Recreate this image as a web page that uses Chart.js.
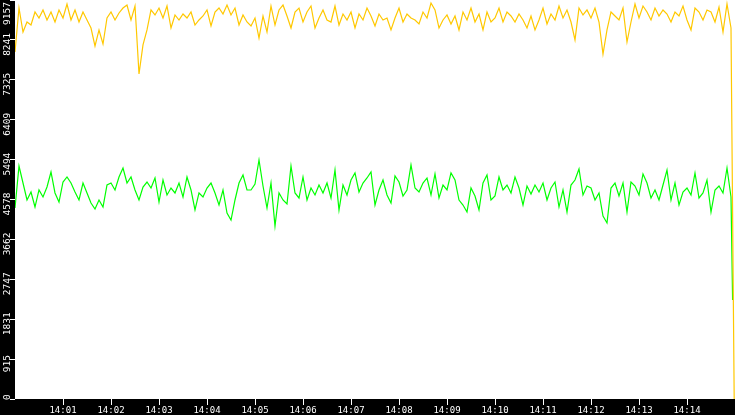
<!DOCTYPE html>
<html>
<head>
<meta charset="UTF-8">
<title>Load monitor</title>
<script src="https://cdn.jsdelivr.net/npm/chart.js@4.4.0/dist/chart.umd.min.js"></script>
<style type="text/css">
	body { margin: 0; background: #000; }
	#graphContainer { position: absolute; left: 0; top: 0; width: 735px; height: 415px; }
</style>
</head>
<body>

<div id="graphContainer">
	<canvas id="loadChart" width="735" height="415"></canvas>
</div>

<script type="text/javascript">

// one sample every 5 seconds starting 14:00:00
var sampleStep = 5;

var yellowValues = [
	7964,8973,8423,8652,8583,8882,8744,8928,8698,8882, 8652,8928,8744,9065,8698,8928,8652,8882,8698,8514,
	8101,8469,8147,8744,8882,8698,8859,8973,9042,8698, 9019,7459,8125,8469,8928,8813,8973,8744,9019,8514,
	8813,8698,8836,8744,8882,8583,8698,8790,8928,8560, 8882,8973,8836,9042,8813,8973,8583,8813,8652,
	8560,8744,8285,8790,8423,9019,8583,8928,9042,8790, 8514,8882,8973,8652,8882,9019,8514,8744,8928,8698,
	8652,9019,8583,8836,8698,8882,8514,8836,8698,8973, 8790,8560,8836,8698,8744,8469,8744,8973,8652,8836,
	8744,8698,8606,8882,8744,9088,8928,8514,8698,8813, 8606,8790,8469,8882,8698,8973,8652,8836,8469,8882,
	8652,
	8744,8973,8652,8882,8790,8652,8836,8698,8514,8790, 8469,8698,8973,8606,8836,8698,9019,8744,8928,8652,
	8239,8973,8813,8928,8744,8973,8652,7918,8469,8882, 8790,8698,8973,8193,8652,9065,8744,9019,8882,8698,
	8973,8790,8928,8836,8652,8882,8790,9019,8698,8469, 8973,8882,8698,8928,8882,8652,8996,8423,9065,8514
];
var yellowEnd = { x: 899, y: 0 };

var greenValues = [
	4383,5347,4957,4567,4751,4406,4797,4636,4865,5210, 4728,4521,4980,5095,4957,4751,4567,4957,4728,4498,
	4361,4567,4406,4911,4957,4797,5095,5301,4957,5095, 4797,4567,4865,4980,4842,5072,4521,5026,4682,4842,
	4728,4957,4636,5095,4797,4338,4728,4636,4842,4957, 4728,4452,4797,4269,4108,4567,4957,5141,4797,
	4797,4934,5485,4888,4383,4957,3970,4728,4567,4475, 5347,4728,4613,5095,4567,4842,4682,4911,4728,4957,
	4613,5256,4338,4911,4682,5026,5187,4751,4957,5072, 5210,4452,4797,5026,4682,4498,5118,4980,4659,4797,
	5370,4842,4751,4957,5072,4682,5164,4613,4911,4797, 5187,5026,4567,4452,4292,4842,4659,4338,4957,5141,
	4567,
	4659,5095,4797,4911,4728,5095,4842,4452,4888,4705, 4911,4751,4957,4567,4842,4980,4406,4797,4292,4911,
	5026,5279,4682,4888,4842,4567,4728,4200,4040,4842, 4957,4659,4957,4292,4980,4888,4682,5164,4957,4613,
	4797,4567,4911,5256,4567,4957,4452,4751,4842,4682, 5187,4613,4728,5026,4292,4797,4888,4728,5301,4636
];
var greenEnd = { x: 897, y: 2272 };

var yTickValues = [0, 915, 1831, 2747, 3662, 4578, 5494, 6409, 7325, 8241, 9157];
var yTickLabels = ['0', '915', '1831', '2747', '3662', '4578', '5494', '6409', '7325', '8241', '9157'];

var xTickSeconds = [60, 120, 180, 240, 300, 360, 420, 480, 540, 600, 660, 720, 780, 840];
var xTickLabels = ['14:01', '14:02', '14:03', '14:04', '14:05', '14:06', '14:07',
	'14:08', '14:09', '14:10', '14:11', '14:12', '14:13', '14:14'];

var fontName = '"DejaVu Sans Mono", monospace';

function toPoints(values, end) {
	var pts = [];
	for (var i = 0; i < values.length; i++) {
		pts.push({ x: i * sampleStep, y: values[i] });
	}
	pts.push(end);
	return pts;
}

// white plot area on black page
var plotBackground = {
	id: 'plotBackground',
	beforeDraw: function(chart) {
		var a = chart.chartArea;
		var ctx = chart.ctx;
		ctx.save();
		ctx.fillStyle = '#000';
		ctx.fillRect(0, 0, chart.width, chart.height);
		ctx.fillStyle = '#fff';
		ctx.fillRect(a.left, a.top, a.right - a.left, a.bottom - a.top);
		ctx.restore();
	}
};

// y labels are written upwards, centred a bit under the tick
var verticalYLabels = {
	id: 'verticalYLabels',
	afterDraw: function(chart) {
		var scale = chart.scales.y;
		var ctx = chart.ctx;
		ctx.save();
		ctx.font = '9.5px ' + fontName;
		ctx.fillStyle = '#fff';
		ctx.textAlign = 'center';
		ctx.textBaseline = 'alphabetic';
		for (var i = 0; i < scale.ticks.length; i++) {
			var label = yTickLabels[i];
			var w = ctx.measureText(label).width;
			var c = scale.getPixelForValue(scale.ticks[i].value) + 4.5;
			c = Math.max(c, w / 2 + 2);
			c = Math.min(c, 400 - w / 2);
			ctx.save();
			ctx.translate(9.5, c);
			ctx.rotate(-Math.PI / 2);
			ctx.fillText(label, 0, 0);
			ctx.restore();
		}
		ctx.restore();
	}
};

var ctx = document.getElementById('loadChart').getContext('2d');
var loadChart = new Chart(ctx, {
	type: 'line',
	data: {
		datasets: [
			{
				data: toPoints(yellowValues, yellowEnd),
				borderColor: 'rgb(255, 200, 0)',
				borderWidth: 1.2,
				pointRadius: 0,
				tension: 0,
				fill: false
			},
			{
				data: toPoints(greenValues, greenEnd),
				borderColor: 'rgb(0, 255, 0)',
				borderWidth: 1.2,
				pointRadius: 0,
				tension: 0,
				fill: false
			}
		]
	},
	options: {
		responsive: false,
		devicePixelRatio: 1,
		animation: false,
		layout: { padding: 0 },
		plugins: {
			legend: { display: false },
			tooltip: { enabled: false }
		},
		scales: {
			x: {
				type: 'linear',
				min: 0,
				max: 900,
				afterBuildTicks: function(scale) {
					scale.ticks = xTickSeconds.map(function(v) { return { value: v }; });
				},
				afterFit: function(scale) { scale.height = 16; },
				ticks: {
					autoSkip: false,
					maxRotation: 0,
					minRotation: 0,
					padding: 0,
					color: '#fff',
					font: { family: fontName, size: 9 },
					callback: function(value, index) { return xTickLabels[index]; }
				},
				grid: {
					drawOnChartArea: false,
					drawTicks: true,
					tickLength: 6,
					tickColor: '#fff',
					tickWidth: 1
				},
				border: { display: false }
			},
			y: {
				type: 'linear',
				min: 0,
				max: 9157,
				afterBuildTicks: function(scale) {
					scale.ticks = yTickValues.map(function(v) { return { value: v }; });
				},
				afterFit: function(scale) { scale.width = 15; },
				ticks: { display: false },
				grid: {
					drawOnChartArea: false,
					drawTicks: true,
					tickLength: 5,
					tickColor: '#fff',
					tickWidth: 1
				},
				border: { display: false }
			}
		}
	},
	plugins: [plotBackground, verticalYLabels]
});

</script>

</body>
</html>
